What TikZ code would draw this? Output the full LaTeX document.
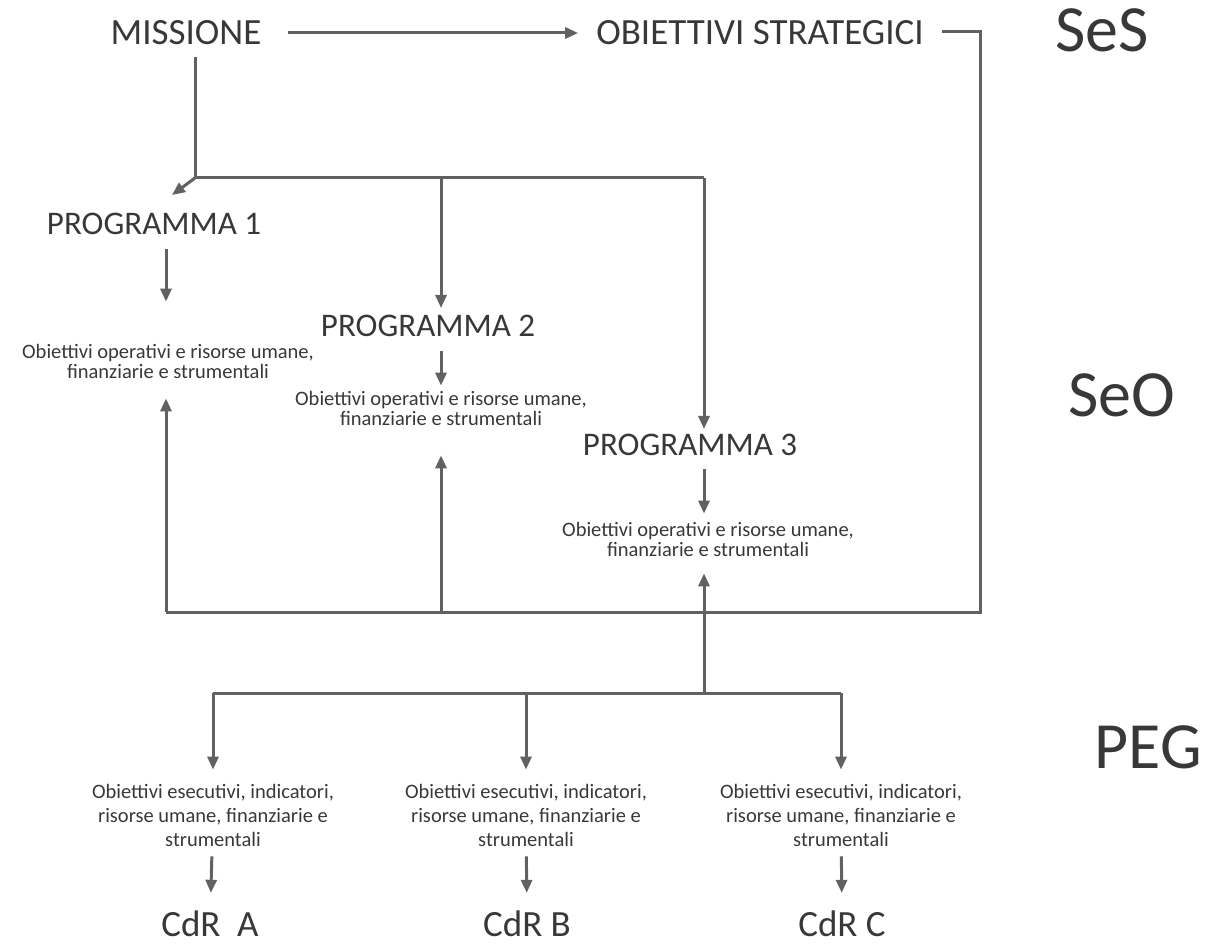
\documentclass[tikz,border=0pt]{standalone}
\usepackage{fontspec}
\setmainfont{Carlito}
\usetikzlibrary{arrows.meta,positioning}
\definecolor{ink}{gray}{0.22}
\definecolor{wire}{gray}{0.38}

\begin{document}
\begin{tikzpicture}[x=1pt,y=-1pt,
  lbl/.style={inner sep=0pt,text=ink},
  head/.style={lbl,font=\fontsize{37}{40}\selectfont},
  prog/.style={lbl,font=\fontsize{33}{36}\selectfont},
  obtext/.style={lbl,align=center,font=\fontsize{20.5}{20}\selectfont},
  pegtext/.style={lbl,align=center,font=\fontsize{20.5}{24}\selectfont},
  level/.style={lbl,font=\fontsize{66}{70}\selectfont},
  cdr/.style={lbl,font=\fontsize{37}{40}\selectfont},
  link/.style={draw=wire,line width=3pt},
  arr/.style={link,-{Triangle[length=13pt,width=11pt]}}]
\useasboundingbox (0,0) rectangle (1209,949);
% top row
\node[head] (mis) at (186,33) {MISSIONE};
\node[head] (obs) at (760,33) {OBIETTIVI STRATEGICI};
\node[level] (ses) at (1102,30) {SeS};
\node[level] (seo) at (1122,395) {SeO};
\node[level] (peg) at (1148,747) {PEG};
% programmi
\node[prog] (p1) at (154,224) {PROGRAMMA 1};
\node[prog] (p2) at (428,326) {PROGRAMMA 2};
\node[prog] (p3) at (690,445) {PROGRAMMA 3};
\node[obtext] (ob1) at (168,361) {Obiettivi operativi e risorse umane,\\finanziarie e strumentali};
\node[obtext] (ob2) at (441,408) {Obiettivi operativi e risorse umane,\\finanziarie e strumentali};
\node[obtext] (ob3) at (708,539) {Obiettivi operativi e risorse umane,\\finanziarie e strumentali};
% PEG
\node[pegtext] (ex1) at (213,815) {Obiettivi esecutivi, indicatori,\\risorse umane, finanziarie e\\strumentali};
\node[pegtext] (ex2) at (526,815) {Obiettivi esecutivi, indicatori,\\risorse umane, finanziarie e\\strumentali};
\node[pegtext] (ex3) at (841,815) {Obiettivi esecutivi, indicatori,\\risorse umane, finanziarie e\\strumentali};
\node[cdr] (cdra) at (210,924) {CdR\hspace{0.45em}A};
\node[cdr] (cdrb) at (527,924) {CdR B};
\node[cdr] (cdrc) at (842,924) {CdR C};
% junctions
\coordinate (j1) at (195,178);
\coordinate (j2) at (441,178);
\coordinate (j3) at (704,178);
\coordinate (t1) at (172,195);
\coordinate (r1) at (980,32);
\coordinate (r2) at (980,612);
\coordinate (f1) at (166,612);
\coordinate (f2) at (441,612);
\coordinate (g0) at (704,693);
\coordinate (g1) at (213,693);
\coordinate (g2) at (526,693);
\coordinate (g3) at (841,693);
% missione
\draw[arr,shorten <=26pt,shorten >=18pt] (mis) -- (obs);
\draw[link,shorten <=12pt] (mis.south -| j1) -- (j1) -- (j3);
\draw[arr] (j1) -- (t1);
\draw[arr,shorten >=7pt] (j2) -- (p2.north -| j2);
\draw[arr,shorten >=5pt] (j3) -- (p3.north -| j3);
\draw[arr,shorten <=14pt,shorten >=42pt] (p1.south -| f1) -- (ob1.north -| f1);
\draw[arr,shorten <=14pt,shorten >=5pt] (p2.south -| j2) -- (ob2.north -| j2);
\draw[arr,shorten <=13pt,shorten >=8pt] (p3.south -| j3) -- (ob3.north -| j3);
% ritorno
\draw[link,shorten <=18pt] (obs.east |- r1) -- (r1) -- (r2) -- (f1);
\draw[arr,shorten >=20pt] (f1) -- (ob1.south -| f1);
\draw[arr,shorten >=30pt] (f2) -- (ob2.south -| f2);
\draw[arr,shorten >=17pt] (g0) -- (ob3.south -| g0);
% PEG
\draw[link] (g1) -- (g3);
\draw[arr,shorten >=14pt] (g1) -- (ex1.north -| g1);
\draw[arr,shorten >=14pt] (g2) -- (ex2.north -| g2);
\draw[arr,shorten >=14pt] (g3) -- (ex3.north -| g3);
\draw[arr,shorten <=10pt,shorten >=18pt] (ex1) -- (cdra);
\draw[arr,shorten <=10pt,shorten >=18pt] (ex2) -- (cdrb);
\draw[arr,shorten <=10pt,shorten >=18pt] (ex3) -- (cdrc);
\end{tikzpicture}
\end{document}
